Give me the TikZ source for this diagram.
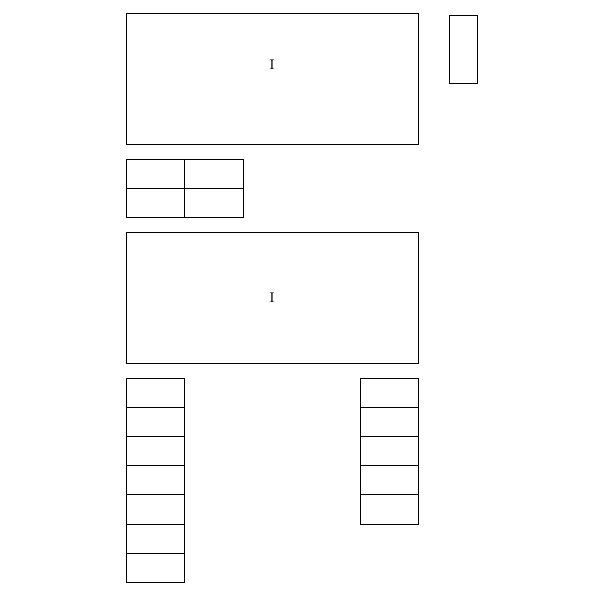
\documentclass[tikz,border=0pt]{standalone}
\usepackage{tikz}
\usetikzlibrary{positioning}

\tikzset{
  block/.style={draw, minimum width=5.84cm, minimum height=2.62cm, inner sep=0pt},
  cell/.style={draw, minimum width=1.17cm, minimum height=0.584cm, inner sep=0pt},
  slot/.style={draw, minimum width=0.56cm, minimum height=1.36cm, inner sep=0pt},
  tag/.style={font=\footnotesize, inner sep=0pt}
}

\begin{document}
\begin{tikzpicture}[node distance=0.584cm and 1.17cm,on grid]
    \useasboundingbox (0,0) rectangle (12,-11.98);
    % \draw[help lines] (0,0) grid (12,-12);

    \node[block]  (top)    at (5.44, -1.57) {};
    \node[tag]    (topI)   at (5.44, -1.30) {I};
    \node[slot]   (side)   at (9.26, -0.98) {};

    \node[cell]   (g_1)    at (3.11, -3.47) {};
    \node[cell]   (g_2)    [right=of g_1] {};
    \node[cell]   (g_3)    [below=of g_1] {};
    \node[cell]   (g_4)    [right=of g_3] {};

    \node[block]  (mid)    at (5.44, -5.95) {};
    \node[tag]    (midI)   at (5.44, -5.96) {I};

    \node[cell]   (l_1)    at (3.11, -7.852) {};
    \node[cell]   (l_2)    [below=of l_1] {};
    \node[cell]   (l_3)    [below=of l_2] {};
    \node[cell]   (l_4)    [below=of l_3] {};
    \node[cell]   (l_5)    [below=of l_4] {};
    \node[cell]   (l_6)    [below=of l_5] {};
    \node[cell]   (l_7)    [below=of l_6] {};

    \node[cell]   (r_1)    at (7.79, -7.852) {};
    \node[cell]   (r_2)    [below=of r_1] {};
    \node[cell]   (r_3)    [below=of r_2] {};
    \node[cell]   (r_4)    [below=of r_3] {};
    \node[cell]   (r_5)    [below=of r_4] {};
\end{tikzpicture}
\end{document}
